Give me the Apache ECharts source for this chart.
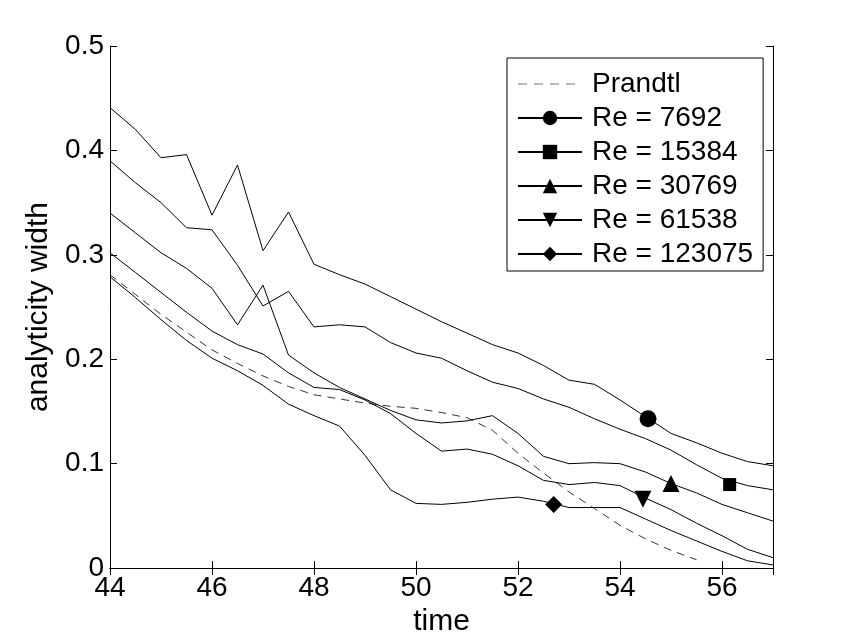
<!DOCTYPE html>
<html>
<head>
<meta charset="utf-8">
<script src="https://cdn.jsdelivr.net/npm/echarts@6/dist/echarts.min.js"></script>
<style>
  html, body { margin: 0; padding: 0; background: #fff; }
  #chart { width: 853px; height: 642px; }
</style>
</head>
<body>
<div id="chart"></div>
<script>
var time = [44, 44.5, 45, 45.5, 46, 46.5, 47, 47.5, 48, 48.5, 49, 49.5, 50, 50.5, 51, 51.5, 52, 52.5, 53, 53.5, 54, 54.5, 55, 55.5, 56, 56.5, 57];

var prandtl = [0.281, 0.262, 0.243, 0.226, 0.209, 0.196, 0.184, 0.174, 0.166, 0.162, 0.158, 0.155, 0.153, 0.149, 0.144, 0.132, 0.110, 0.091, 0.073, 0.057, 0.041, 0.028, 0.017, 0.008, null, null, null];
var re7692 = [0.441, 0.420, 0.393, 0.396, 0.338, 0.386, 0.304, 0.341, 0.291, 0.281, 0.272, 0.260, 0.248, 0.236, 0.225, 0.214, 0.206, 0.194, 0.180, 0.176, 0.161, 0.145, 0.129, 0.120, 0.110, 0.102, 0.098];
var re15384 = [0.390, 0.369, 0.350, 0.326, 0.324, 0.290, 0.251, 0.265, 0.231, 0.233, 0.231, 0.216, 0.206, 0.201, 0.189, 0.178, 0.172, 0.162, 0.154, 0.143, 0.133, 0.124, 0.113, 0.099, 0.086, 0.079, 0.075];
var re30769 = [0.340, 0.321, 0.302, 0.287, 0.268, 0.233, 0.271, 0.204, 0.187, 0.173, 0.162, 0.151, 0.142, 0.139, 0.141, 0.146, 0.129, 0.107, 0.100, 0.101, 0.100, 0.092, 0.081, 0.072, 0.061, 0.053, 0.045];
var re61538 = [0.302, 0.283, 0.264, 0.245, 0.227, 0.214, 0.205, 0.187, 0.173, 0.171, 0.161, 0.148, 0.129, 0.112, 0.114, 0.109, 0.098, 0.084, 0.080, 0.082, 0.079, 0.067, 0.056, 0.043, 0.031, 0.018, 0.010];
var re123075 = [0.279, 0.259, 0.238, 0.218, 0.201, 0.189, 0.175, 0.157, 0.146, 0.136, 0.108, 0.075, 0.062, 0.061, 0.063, 0.066, 0.068, 0.064, 0.058, 0.058, 0.058, 0.047, 0.036, 0.026, 0.016, 0.007, 0.003];

// one marker per Re curve
var markerTime = [54.55, 56.15, 55.0, 54.45, 52.7];
var markerWidth = [0.143, 0.080, 0.081, 0.066, 0.061];

var names = ['Prandtl', 'Re = 7692', 'Re = 15384', 'Re = 30769', 'Re = 61538', 'Re = 123075'];
var values = [prandtl, re7692, re15384, re30769, re61538, re123075];
var symbols = ['none', 'circle', 'rect', 'triangle', 'triangle', 'diamond'];
var rotates = [0, 0, 0, 0, 180, 0];
var sizes = [0, 17, 13, 17, 17, 17];

var font = 'Liberation Sans, Arial, Helvetica, sans-serif';
var fs = 28;
var nameFs = 30;

function pairs(ys) {
    return time.map(function (t, i) { return [t, ys[i]]; });
}

var series = [];
for (var i = 0; i < names.length; i++) {
    series.push({
        name: names[i],
        type: 'line',
        data: pairs(values[i]),
        showSymbol: false,
        symbol: i == 0 ? 'circle' : symbols[i],
        symbolRotate: rotates[i],
        lineStyle: {
            color: i == 0 ? '#333' : '#000',
            width: 1,
            type: i == 0 ? [8, 6] : 'solid'
        },
        itemStyle: { color: '#000' },
        silent: true,
        z: 2
    });
}
for (var k = 0; k < markerTime.length; k++) {
    series.push({
        name: 'marker' + k,
        type: 'scatter',
        data: [[markerTime[k], markerWidth[k]]],
        symbol: symbols[k + 1],
        symbolRotate: rotates[k + 1],
        symbolSize: sizes[k + 1],
        itemStyle: { color: '#000', opacity: 1 },
        silent: true,
        z: 3
    });
}

var chart = echarts.init(document.getElementById('chart'));
var axisLine = { show: true, lineStyle: { color: '#000', width: 1 } };
var tick = { show: true, inside: true, length: 7, lineStyle: { color: '#000' } };
chart.setOption({
    animation: false,
    backgroundColor: '#fff',
    textStyle: { fontFamily: font },
    grid: { left: 110, right: 80, top: 46, bottom: 71, containLabel: false },
    legend: {
        orient: 'vertical',
        left: 507,
        top: 58,
        padding: [12, 10, 3, 10],
        itemWidth: 64,
        itemHeight: 18,
        itemGap: 6,
        borderColor: '#000',
        borderWidth: 1,
        backgroundColor: '#fff',
        selectedMode: false,
        textStyle: { fontSize: fs, color: '#000', fontFamily: font, padding: [0, 0, 0, 5] },
        data: [
            { name: 'Prandtl', itemStyle: { color: 'rgba(0,0,0,0)', borderWidth: 0 }, lineStyle: { color: '#777', type: [9, 7], width: 1 } },
            'Re = 7692', 'Re = 15384', 'Re = 30769', 'Re = 61538', 'Re = 123075'
        ]
    },
    xAxis: [{
        type: 'value',
        min: 44,
        max: 57,
        interval: 2,
        position: 'bottom',
        name: 'time',
        nameLocation: 'middle',
        nameGap: 34,
        nameTextStyle: { fontSize: nameFs, color: '#000', fontFamily: font },
        axisLine: axisLine,
        axisTick: tick,
        axisLabel: { fontSize: fs, color: '#000', margin: 6, fontFamily: font, showMaxLabel: false },
        splitLine: { show: false }
    }, {
        type: 'value',
        min: 44,
        max: 57,
        interval: 2,
        position: 'top',
        axisLine: axisLine,
        axisTick: tick,
        axisLabel: { show: false },
        splitLine: { show: false }
    }],
    yAxis: [{
        type: 'value',
        min: 0,
        max: 0.5,
        interval: 0.1,
        position: 'left',
        name: 'analyticity width',
        nameLocation: 'middle',
        nameGap: 53,
        nameTextStyle: { fontSize: nameFs, color: '#000', fontFamily: font },
        axisLine: axisLine,
        axisTick: tick,
        axisLabel: { fontSize: fs, color: '#000', margin: 6, fontFamily: font,
            formatter: function (v) { return v === 0 ? '0' : v.toFixed(1); } },
        splitLine: { show: false }
    }, {
        type: 'value',
        min: 0,
        max: 0.5,
        interval: 0.1,
        position: 'right',
        axisLine: axisLine,
        axisTick: tick,
        axisLabel: { show: false },
        splitLine: { show: false }
    }],
    series: series
});
</script>
</body>
</html>
